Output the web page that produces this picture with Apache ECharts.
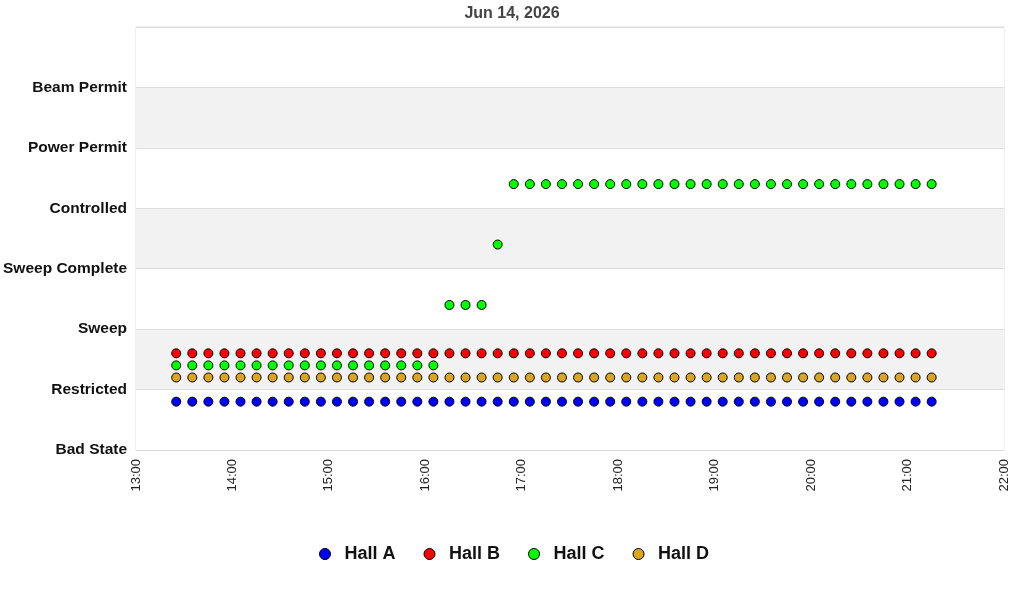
<!DOCTYPE html>
<html><head><meta charset="utf-8">
<script src="https://cdn.jsdelivr.net/npm/echarts@6/dist/echarts.min.js"></script>
<style>html,body{margin:0;padding:0;background:#fff}#c{width:1024px;height:600px}</style>
</head><body><div id="c"></div>
<script>
const chartDate = "2026-06-14";
const titleText = "Jun 14, 2026";
const stateLabels = ["Bad State","Restricted","Sweep","Sweep Complete","Controlled","Power Permit","Beam Permit",""];
const times = ["13:25","13:35","13:45","13:55","14:05","14:15","14:25","14:35","14:45","14:55",
 "15:05","15:15","15:25","15:35","15:45","15:55","16:05","16:15","16:25","16:35",
 "16:45","16:55","17:05","17:15","17:25","17:35","17:45","17:55","18:05","18:15",
 "18:25","18:35","18:45","18:55","19:05","19:15","19:25","19:35","19:45","19:55",
 "20:05","20:15","20:25","20:35","20:45","20:55","21:05","21:15"];
const hallA = [0.8,0.8,0.8,0.8,0.8,0.8,0.8,0.8,0.8,0.8,0.8,0.8,0.8,0.8,0.8,0.8,0.8,0.8,0.8,0.8,0.8,0.8,0.8,0.8,0.8,0.8,0.8,0.8,0.8,0.8,0.8,0.8,0.8,0.8,0.8,0.8,0.8,0.8,0.8,0.8,0.8,0.8,0.8,0.8,0.8,0.8,0.8,0.8];
const hallB = [1.6,1.6,1.6,1.6,1.6,1.6,1.6,1.6,1.6,1.6,1.6,1.6,1.6,1.6,1.6,1.6,1.6,1.6,1.6,1.6,1.6,1.6,1.6,1.6,1.6,1.6,1.6,1.6,1.6,1.6,1.6,1.6,1.6,1.6,1.6,1.6,1.6,1.6,1.6,1.6,1.6,1.6,1.6,1.6,1.6,1.6,1.6,1.6];
const hallC = [1.4,1.4,1.4,1.4,1.4,1.4,1.4,1.4,1.4,1.4,1.4,1.4,1.4,1.4,1.4,1.4,1.4,2.4,2.4,2.4,3.4,4.4,4.4,4.4,4.4,4.4,4.4,4.4,4.4,4.4,4.4,4.4,4.4,4.4,4.4,4.4,4.4,4.4,4.4,4.4,4.4,4.4,4.4,4.4,4.4,4.4,4.4,4.4];
const hallD = [1.2,1.2,1.2,1.2,1.2,1.2,1.2,1.2,1.2,1.2,1.2,1.2,1.2,1.2,1.2,1.2,1.2,1.2,1.2,1.2,1.2,1.2,1.2,1.2,1.2,1.2,1.2,1.2,1.2,1.2,1.2,1.2,1.2,1.2,1.2,1.2,1.2,1.2,1.2,1.2,1.2,1.2,1.2,1.2,1.2,1.2,1.2,1.2];
const seriesNames = ["Hall A","Hall B","Hall C","Hall D"];
const seriesColors = ["#0000ff","#ff0000","#00ff00","#daa520"];
const xMin = "13:00", xMax = "22:00";

function ts(t){ return new Date(chartDate + "T" + t + ":00").getTime(); }
function pad(n){ return (n<10?"0":"")+n; }
const values = [hallA, hallB, hallC, hallD];

const chart = echarts.init(document.getElementById('c'));
chart.setOption({
  animation:false,
  backgroundColor:'#fff',
  textStyle:{fontFamily:'"Liberation Sans", Arial, sans-serif'},
  title:{text:titleText,left:'center',top:1,textStyle:{fontSize:16,fontWeight:'bold',color:'#444'}},
  grid:{left:136,right:20,top:27,bottom:150,show:true,borderColor:'#dddddd',borderWidth:1,backgroundColor:'transparent'},
  legend:{data:seriesNames,bottom:32,left:314,icon:'circle',itemWidth:11,itemHeight:11,itemGap:28,
    formatter:function(n){return '{a|'+n+'}';},
    textStyle:{fontSize:18,fontWeight:'bold',color:'#111',rich:{a:{fontSize:18,fontWeight:'bold',color:'#111',padding:[0,0,0,9]}}},
    itemStyle:{borderColor:'#000',borderWidth:1}},
  xAxis:{type:'time',min:ts(xMin),max:ts(xMax),interval:3600000,
    axisLine:{show:true,lineStyle:{color:'#dddddd'}},axisTick:{show:false},splitLine:{show:false},
    axisLabel:{rotate:90,fontSize:13,color:'#222',margin:9,showMinLabel:true,showMaxLabel:true,
      formatter:function(v){const d=new Date(v);return pad(d.getHours())+":"+pad(d.getMinutes());}}},
  yAxis:{type:'value',min:0,max:7,interval:1,
    axisLine:{show:false},axisTick:{show:false},
    splitLine:{show:true,lineStyle:{color:'#dddddd'}},
    splitArea:{show:true,areaStyle:{color:['#ffffff','#f2f2f2']}},
    axisLabel:{fontSize:15.5,fontWeight:'bold',color:'#111',margin:9,
      formatter:function(v){return stateLabels[Math.round(v)]||"";}}},
  series: seriesNames.map(function(n,i){
    return {name:n,type:'scatter',symbol:'circle',symbolSize:9,
      itemStyle:{color:seriesColors[i],borderColor:'#000',borderWidth:1,opacity:1},
      data: times.map(function(t,j){return [ts(t), values[i][j]];})};
  })
});
</script></body></html>
